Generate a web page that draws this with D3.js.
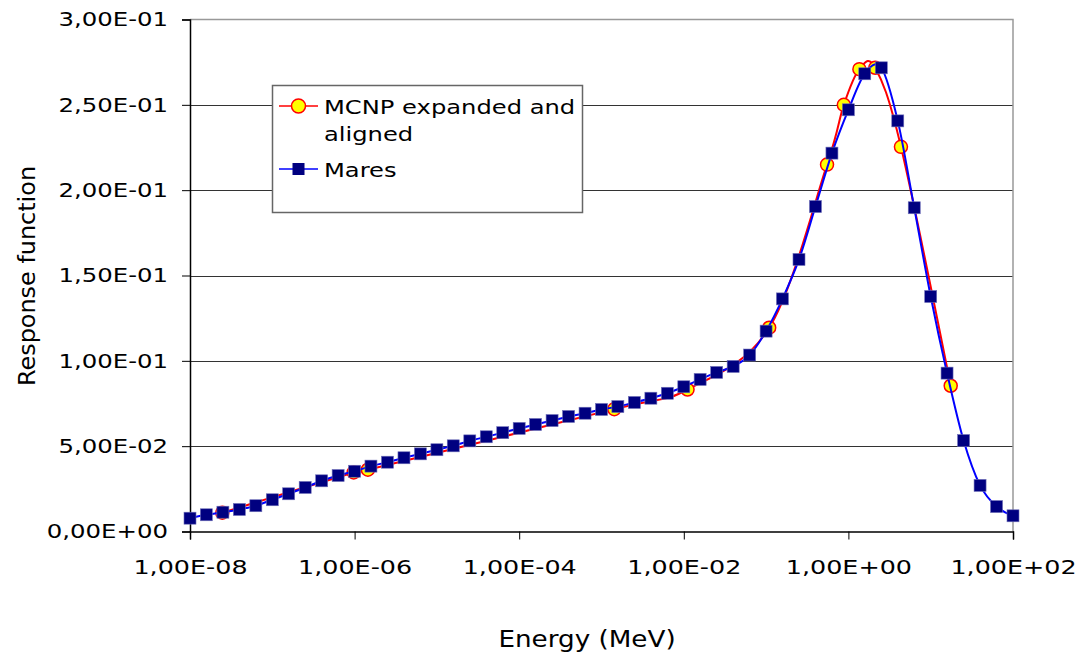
<!DOCTYPE html>
<html>
<head>
<meta charset="utf-8">
<script src="https://d3js.org/d3.v7.min.js"></script>
<style>
    body { margin: 0; background: #ffffff; }
    text { font-family: Verdana, "DejaVu Sans", sans-serif; fill: #000000; }
    .tick-label { font-size: 20px; }
    .legend-text { font-size: 20px; }
</style>
</head>
<body>
<div id="chart"></div>
<script>

    // Mares energies (MeV) and response
    const maresEnergy = [
        1.00e-8, 1.58e-8, 2.51e-8, 3.98e-8, 6.31e-8,
        1.00e-7, 1.58e-7, 2.51e-7, 3.98e-7, 6.31e-7,
        1.00e-6, 1.58e-6, 2.51e-6, 3.98e-6, 6.31e-6,
        1.00e-5, 1.58e-5, 2.51e-5, 3.98e-5, 6.31e-5,
        1.00e-4, 1.58e-4, 2.51e-4, 3.98e-4, 6.31e-4,
        1.00e-3, 1.58e-3, 2.51e-3, 3.98e-3, 6.31e-3,
        1.00e-2, 1.58e-2, 2.51e-2, 3.98e-2, 6.31e-2,
        1.00e-1, 1.58e-1, 2.51e-1, 3.98e-1, 6.31e-1,
        1.00, 1.58, 2.51, 3.98, 6.31,
        10.0, 15.8, 25.1, 39.8, 63.1,
        100.0
    ];
    const maresResponse = [
        0.0078, 0.0098, 0.0113, 0.0129, 0.0151,
        0.0186, 0.0221, 0.0258, 0.0297, 0.0328,
        0.0353, 0.0383, 0.0406, 0.0432, 0.0455,
        0.0479, 0.0502, 0.0531, 0.0555, 0.0579,
        0.0604, 0.0627, 0.0650, 0.0674, 0.0693,
        0.0715, 0.0732, 0.0756, 0.0781, 0.0810,
        0.0848, 0.0891, 0.0932, 0.0967, 0.1034,
        0.1174, 0.1363, 0.1594, 0.1904, 0.2217,
        0.2471, 0.2682, 0.2717, 0.2406, 0.1897,
        0.1377, 0.0928, 0.0533, 0.0270, 0.0146,
        0.0092
    ];

    // MCNP expanded and aligned
    const mcnpEnergy = [2.47e-8, 9.75e-7, 1.45e-6, 1.43e-3, 1.11e-2, 1.09e-1, 0.55, 0.88, 1.36, 2.12, 4.35, 17.5];
    const mcnpResponse = [0.0110, 0.0346, 0.0362, 0.0717, 0.0832, 0.1194, 0.2150, 0.2500, 0.2709, 0.2717, 0.2254, 0.0854];

    // axis ticks
    const xTicks = [1e-8, 1e-6, 1e-4, 1e-2, 1e0, 1e2];
    const xTickLabels = ["1,00E-08", "1,00E-06", "1,00E-04", "1,00E-02", "1,00E+00", "1,00E+02"];
    const yTicks = [0, 0.05, 0.10, 0.15, 0.20, 0.25, 0.30];
    const yTickLabels = ["0,00E+00", "5,00E-02", "1,00E-01", "1,50E-01", "2,00E-01", "2,50E-01", "3,00E-01"];

    const W = 1077, H = 657;
    const plotLeft = 190, plotRight = 1013, plotTop = 19.5, plotBottom = 531.5;
    const stretch = 1.22; // the original text is drawn wide

    const svg = d3.select("#chart")
        .append("svg")
        .attr("width", W)
        .attr("height", H);

    const x = d3.scaleLog()
        .domain([1e-8, 1e2])
        .range([plotLeft, plotRight]);

    const y = d3.scaleLinear()
        .domain([0, 0.3])
        .range([plotBottom, plotTop]);

    // grid lines
    svg.append("g")
        .selectAll("line")
        .data(yTicks.slice(1, -1))
        .join("line")
        .attr("x1", plotLeft)
        .attr("x2", plotRight)
        .attr("y1", d => Math.round(y(d)) + 0.5)
        .attr("y2", d => Math.round(y(d)) + 0.5)
        .attr("stroke", "#333333")
        .attr("stroke-width", 1);

    // plot frame (top / right, gray)
    svg.append("path")
        .attr("d", `M${plotLeft},${plotTop} H${plotRight} V${plotBottom}`)
        .attr("fill", "none")
        .attr("stroke", "#999999")
        .attr("stroke-width", 1.5);

    // Y axis
    const yAxis = svg.append("g")
        .attr("transform", `translate(${plotLeft},0)`)
        .call(d3.axisLeft(y).tickValues(yTicks).tickFormat((d, i) => yTickLabels[i]).tickSize(8).tickPadding(14));
    yAxis.select(".domain").attr("stroke", "#000").attr("stroke-width", 1.5);
    yAxis.selectAll(".tick line").attr("stroke", "#000");
    yAxis.selectAll(".tick text")
        .attr("class", "tick-label")
        .attr("font-family", null)
        .attr("font-size", null)
        .attr("x", -22 / stretch)
        .attr("transform", `scale(${stretch},1)`);

    // X axis
    const xAxis = svg.append("g")
        .attr("transform", `translate(0,${plotBottom})`)
        .call(d3.axisBottom(x).tickValues(xTicks).tickFormat((d, i) => xTickLabels[i]).tickSize(8).tickPadding(20));
    xAxis.select(".domain").attr("stroke", "#000").attr("stroke-width", 1.5);
    xAxis.selectAll(".tick line").attr("stroke", "#000");
    xAxis.selectAll(".tick text")
        .attr("class", "tick-label")
        .attr("font-family", null)
        .attr("font-size", null)
        .attr("transform", "scale(1.27,1)");

    // axis titles
    svg.append("text")
        .attr("transform", "translate(587,647) scale(1.14,1)")
        .attr("text-anchor", "middle")
        .style("font-size", "23px")
        .text("Energy (MeV)");

    svg.append("text")
        .attr("transform", "translate(35,276) rotate(-90) scale(1.04,1)")
        .attr("text-anchor", "middle")
        .style("font-size", "23px")
        .text("Response function");

    const mcnp = mcnpEnergy.map((e, i) => ({e: e, v: mcnpResponse[i]}));
    const mares = maresEnergy.map((e, i) => ({e: e, v: maresResponse[i]}));

    const line = d3.line()
        .x(d => x(d.e))
        .y(d => y(d.v))
        .curve(d3.curveCardinal.tension(0));

    // MCNP series
    svg.append("path")
        .datum(mcnp)
        .attr("d", line)
        .attr("fill", "none")
        .attr("stroke", "#FF0000")
        .attr("stroke-width", 2);

    svg.append("g")
        .selectAll("circle")
        .data(mcnp)
        .join("circle")
        .attr("cx", d => x(d.e))
        .attr("cy", d => y(d.v))
        .attr("r", 6.5)
        .attr("fill", "#FFFF00")
        .attr("stroke", "#FF0000")
        .attr("stroke-width", 1.5);

    // Mares series
    svg.append("path")
        .datum(mares)
        .attr("d", line)
        .attr("fill", "none")
        .attr("stroke", "#0000FF")
        .attr("stroke-width", 2);

    const sq = 12;
    svg.append("g")
        .selectAll("rect")
        .data(mares)
        .join("rect")
        .attr("x", d => x(d.e) - sq / 2)
        .attr("y", d => y(d.v) - sq / 2)
        .attr("width", sq)
        .attr("height", sq)
        .attr("fill", "#000080")
        .attr("stroke", "#6f6fb8")
        .attr("stroke-width", 0.6);

    // legend
    const lg = svg.append("g");
    lg.append("rect")
        .attr("x", 272.5)
        .attr("y", 85.5)
        .attr("width", 310)
        .attr("height", 127)
        .attr("fill", "#ffffff")
        .attr("stroke", "#666666")
        .attr("stroke-width", 1.5);

    lg.append("line")
        .attr("x1", 279).attr("x2", 318)
        .attr("y1", 106).attr("y2", 106)
        .attr("stroke", "#FF0000").attr("stroke-width", 1.5);
    lg.append("circle")
        .attr("cx", 298.5).attr("cy", 106).attr("r", 7)
        .attr("fill", "#FFFF00").attr("stroke", "#FF0000").attr("stroke-width", 1.5);
    lg.append("text")
        .attr("class", "legend-text")
        .attr("transform", "translate(324,114) scale(1.21,1)")
        .text("MCNP expanded and");
    lg.append("text")
        .attr("class", "legend-text")
        .attr("transform", "translate(324,141) scale(1.21,1)")
        .text("aligned");

    lg.append("line")
        .attr("x1", 279).attr("x2", 318)
        .attr("y1", 169).attr("y2", 169)
        .attr("stroke", "#0000FF").attr("stroke-width", 1.5);
    lg.append("rect")
        .attr("x", 292.5).attr("y", 163).attr("width", 12).attr("height", 12)
        .attr("fill", "#000080");
    lg.append("text")
        .attr("class", "legend-text")
        .attr("transform", "translate(324,177) scale(1.21,1)")
        .text("Mares");

</script>
</body>
</html>
